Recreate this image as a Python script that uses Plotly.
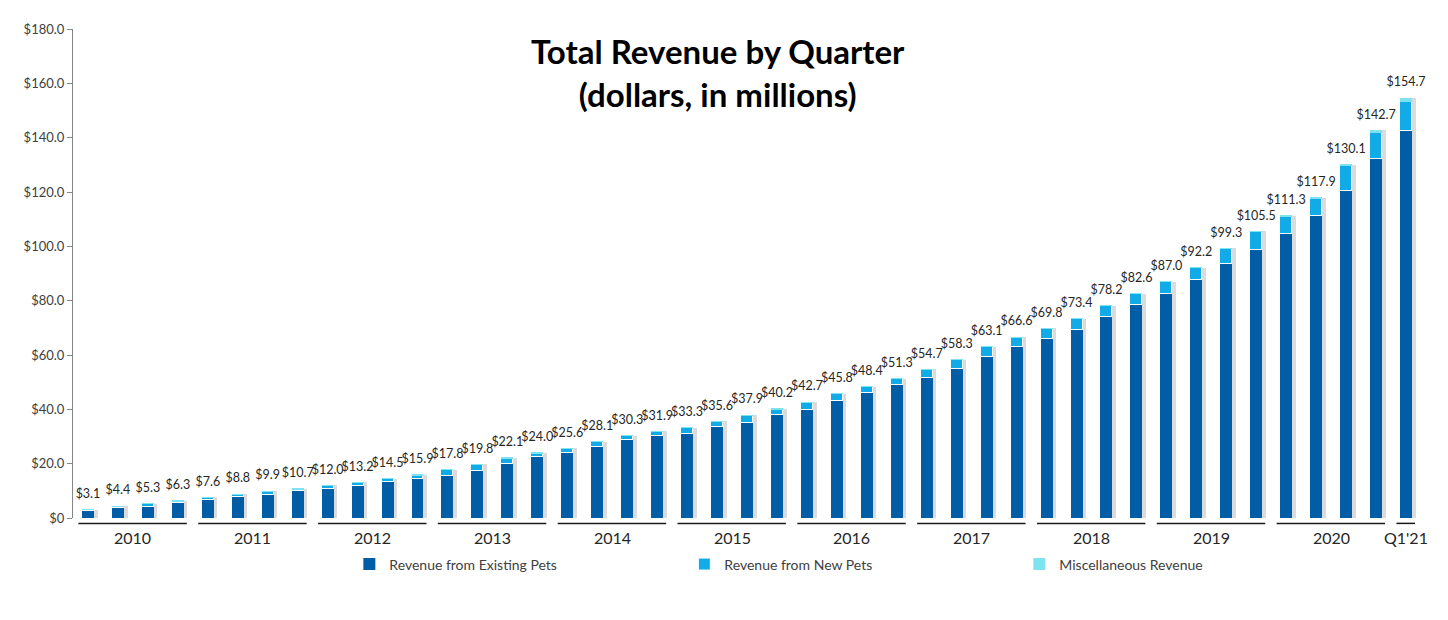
import plotly.graph_objects as go

quarters = [f"Q{q} {y}" for y in range(2010, 2021) for q in (1, 2, 3, 4)] + ["Q1 2021"]
year_labels = ["2010", "2011", "2012", "2013", "2014", "2015", "2016", "2017", "2018", "2019", "2020", "Q1'21"]

totals = [3.1, 4.4, 5.3, 6.3, 7.6, 8.8, 9.9, 10.7, 12.0, 13.2, 14.5, 15.9,
          17.8, 19.8, 22.1, 24.0, 25.6, 28.1, 30.3, 31.9, 33.3, 35.6, 37.9, 40.2,
          42.7, 45.8, 48.4, 51.3, 54.7, 58.3, 63.1, 66.6, 69.8, 73.4, 78.2, 82.6,
          87.0, 92.2, 99.3, 105.5, 111.3, 117.9, 130.1, 142.7, 154.7]

existing_pets = [2.5, 3.6, 4.2, 5.4, 6.5, 7.6, 8.6, 9.8, 10.6, 11.9, 13.1, 14.5,
                 15.6, 17.4, 19.7, 22.3, 23.8, 26.0, 28.6, 30.1, 31.0, 33.4, 35.1, 37.8,
                 39.9, 43.2, 45.9, 48.8, 51.6, 55.0, 59.4, 62.8, 66.0, 69.3, 73.9, 78.3,
                 82.3, 87.5, 93.4, 98.8, 104.4, 111.0, 120.2, 132.0, 142.4]

new_pets = [0.5, 0.7, 1.0, 0.8, 1.0, 1.1, 1.2, 0.8, 1.3, 1.2, 1.3, 1.3,
            2.1, 2.3, 2.3, 1.6, 1.7, 2.0, 1.6, 1.7, 2.2, 2.1, 2.7, 2.3,
            2.7, 2.5, 2.4, 2.4, 3.0, 3.2, 3.6, 3.7, 3.7, 4.0, 4.2, 4.2,
            4.6, 4.6, 5.8, 6.6, 6.7, 6.7, 9.6, 9.7, 10.9]

misc_revenue = [0.1, 0.1, 0.1, 0.1, 0.1, 0.1, 0.1, 0.1, 0.1, 0.1, 0.1, 0.1,
                0.1, 0.1, 0.1, 0.1, 0.1, 0.1, 0.1, 0.1, 0.1, 0.1, 0.1, 0.1,
                0.1, 0.1, 0.1, 0.1, 0.1, 0.1, 0.1, 0.1, 0.1, 0.1, 0.1, 0.1,
                0.1, 0.1, 0.1, 0.1, 0.2, 0.2, 0.3, 1.0, 1.4]

y_tickvals = [0, 20, 40, 60, 80, 100, 120, 140, 160, 180]
y_ticktext = ["$0", "$20.0", "$40.0", "$60.0", "$80.0", "$100.0", "$120.0", "$140.0", "$160.0", "$180.0"]

FONT = "Lato"
C_EXIST = "#005DA6"
C_NEW = "#11ACE8"
C_MISC = "#7DE3F0"

BW = 0.4
n = len(quarters)
xs = list(range(n))
base_new = [e for e in existing_pets]
base_misc = [e + nw for e, nw in zip(existing_pets, new_pets)]

fig = go.Figure()

# drop shadow
fig.add_trace(go.Bar(x=xs, y=totals, base=0, width=BW, offset=-BW / 2 + 0.12,
                     marker=dict(color="rgba(90,90,90,0.22)", line=dict(width=0)),
                     showlegend=False, hoverinfo="skip"))

fig.add_trace(go.Bar(x=xs, y=existing_pets, base=0, width=BW, offset=-BW / 2,
                     name="Revenue from Existing Pets",
                     marker=dict(color=C_EXIST, line=dict(width=0))))
fig.add_trace(go.Bar(x=xs, y=new_pets, base=base_new, width=BW, offset=-BW / 2,
                     name="Revenue from New Pets",
                     marker=dict(color=C_NEW, line=dict(color="white", width=1))))
fig.add_trace(go.Bar(x=xs, y=misc_revenue, base=base_misc, width=BW, offset=-BW / 2,
                     name="Miscellaneous Revenue",
                     marker=dict(color=C_MISC, line=dict(width=0))))

fig.add_trace(go.Scatter(x=xs, y=totals, mode="markers+text",
                         text=[f"${v:.1f}" for v in totals],
                         textposition="top center",
                         marker=dict(size=12, color="rgba(0,0,0,0)"),
                         textfont=dict(family=FONT, size=12.5, color="#262626"),
                         cliponaxis=False,
                         showlegend=False, hoverinfo="skip"))

# year group lines and labels
shapes = []
annotations = []
for g, label in enumerate(year_labels):
    start = g * 4
    end = min(start + 3, n - 1)
    x0 = start - 0.32
    x1 = end + 0.3
    shapes.append(dict(type="line", xref="x", yref="paper", x0=x0, x1=x1,
                       y0=-0.011, y1=-0.011, line=dict(color="#1a1a1a", width=1.5)))
    annotations.append(dict(x=(start + end) / 2, y=-0.039, xref="x", yref="paper",
                            text=label, showarrow=False, yanchor="middle",
                            font=dict(family=FONT, size=16, color="#262626")))

annotations.append(dict(x=0.4785, y=0.912, xref="paper", yref="paper",
                        text="<b>Total Revenue by Quarter<br>(dollars, in millions)</b>",
                        showarrow=False, yanchor="middle", xanchor="center",
                        font=dict(family=FONT, size=33, color="black")))

fig.update_layout(
    width=1448, height=620,
    barmode="overlay",
    bargap=0,
    plot_bgcolor="white", paper_bgcolor="white",
    margin=dict(l=65, r=35, t=21, b=110, autoexpand=False),
    xaxis=dict(range=[-0.5, n - 0.5], showticklabels=False, showgrid=False,
               zeroline=False, showline=False, ticks=""),
    yaxis=dict(range=[0, 180], tickvals=y_tickvals, ticktext=y_ticktext,
               showgrid=False, zeroline=False, showline=True, linecolor="#868686",
               linewidth=1, ticks="outside", ticklen=5, tickcolor="#868686",
               tickfont=dict(family=FONT, size=13, color="#404040")),
    legend=dict(orientation="h", x=0.205, xanchor="left", y=-0.095, yanchor="middle",
                entrywidth=290, itemwidth=30,
                font=dict(family=FONT, size=14, color="#404040"),
                traceorder="normal"),
    shapes=shapes,
    annotations=annotations,
    showlegend=True,
)

fig.write_html("out.html")
